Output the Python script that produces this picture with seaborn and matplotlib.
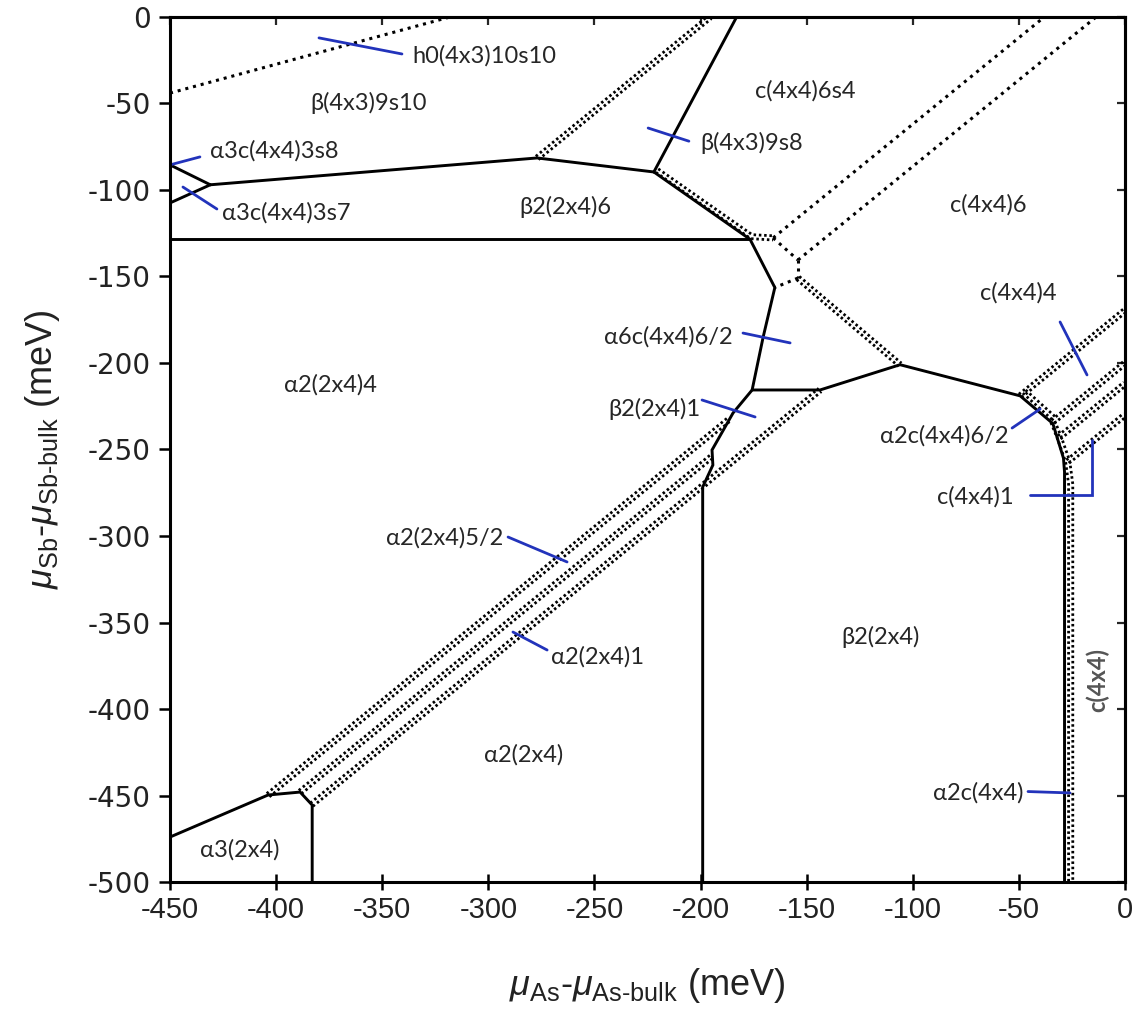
import matplotlib
matplotlib.use("Agg")
import matplotlib.pyplot as plt
from matplotlib import font_manager as fm
import numpy as np
import pandas as pd
import seaborn as sns

# ---------------------------------------------------------------
# Surface phase diagram: mu_As - mu_As,bulk (x) vs mu_Sb - mu_Sb,bulk (y), meV
# ---------------------------------------------------------------

# solid boundaries between the main reconstructions
edge_3s8 = [(-450, -85.5), (-431, -97)]
edge_3s7 = [(-450, -107.5), (-431, -97)]
edge_4x3 = [(-431, -97), (-277, -81.5), (-222, -89.6)]
edge_9s8 = [(-222, -89.6), (-183, 0)]
edge_center = [(-222, -89.6), (-176.7, -128.5), (-165, -156.4), (-170.5, -185),
               (-175.7, -215.6), (-184.7, -228.9), (-194.6, -250.3),
               (-194.2, -259), (-199, -271.7), (-199, -500)]
edge_26 = [(-450, -128.5), (-176.7, -128.5)]
edge_right = [(-175.7, -215.6), (-143.7, -215.6), (-106, -201), (-49.4, -219),
              (-34, -235), (-29, -255), (-28.5, -263), (-28.5, -500)]
edge_a3 = [(-450, -474), (-403.8, -449.7), (-388.7, -448), (-383, -455.5), (-383, -500)]

# single dotted boundaries
dot_h0 = [(-450, -44), (-318, 0)]
dot_j1_up = [(-165.8, -127.7), (-38, 0)]
dot_j1_j2 = [(-165.8, -127.7), (-154.1, -140.5)]
dot_j2_up = [(-154.1, -140.5), (-13.6, 0)]
dot_j2_j3 = [(-154.1, -140.5), (-154.1, -150.9)]
dot_j3_v = [(-154.1, -150.9), (-165, -156.4)]

# double dotted boundaries
dd_4x3 = [(-277, -81.5), (-195.5, 0)]
dd_center = [(-220.5, -88.8), (-176, -127.0), (-165.8, -127.7)]
dd_j3 = [(-154.1, -150.9), (-106, -201)]
dd_band1 = [(-403.8, -449.8), (-186.3, -232.3)]
dd_band2 = [(-388.7, -448), (-194.4, -253.7)]
dd_band3 = [(-383.3, -455.3), (-143.7, -215.6)]
dd_r1 = [(-49.4, -219), (0, -169.6)]
dd_r_along = [(-47.5, -216.5), (-33.5, -232)]
dd_r2 = [(-34, -234), (0, -200)]
dd_r3 = [(-31, -243), (0, -212)]
dd_r4 = [(-27, -257), (0, -230)]
dd_r_link = [(-34, -234), (-31, -243), (-27, -257), (-25.6, -270), (-25.6, -500)]

# blue leader lines
lead_h0 = [(-379.8, -12.1), (-340.7, -21.4)]
lead_3s8 = [(-450, -85.5), (-435.9, -80.9)]
lead_3s7 = [(-443.9, -98.3), (-427.9, -111)]
lead_9s8 = [(-224.7, -64.2), (-205.5, -71.8)]
lead_6c = [(-180, -182.7), (-157.8, -188.4)]
lead_b21 = [(-199.3, -221.4), (-174.3, -231.2)]
lead_a252 = [(-290.7, -300.6), (-262.9, -315)]
lead_a21 = [(-288.4, -355.5), (-272.3, -365.9)]
lead_c44_4 = [(-30.6, -176.3), (-17.9, -206.9)]
lead_a2c62 = [(-53.2, -237.6), (-40, -226.6)]
lead_c44_1 = [(-44.7, -276.3), (-15.5, -276.3), (-15.5, -244.5)]
lead_a2c = [(-45.7, -447.7), (-25.9, -448.5)]

# phase labels
phase_names = ["h0(4x3)10s10", "β(4x3)9s10", "α3c(4x4)3s8", "α3c(4x4)3s7",
               "β2(2x4)6", "c(4x4)6s4", "β(4x3)9s8", "c(4x4)6", "α2(2x4)4",
               "α6c(4x4)6/2", "β2(2x4)1", "c(4x4)4", "α2c(4x4)6/2", "c(4x4)1",
               "α2(2x4)5/2", "α2(2x4)1", "β2(2x4)", "α2(2x4)", "α2c(4x4)",
               "α3(2x4)"]
phase_x = [-336, -356.2, -431.1, -425.5, -263.9, -150.8, -200.2, -64.5, -374.6,
           -184.7, -200.2, -50.4, -55.1, -52.7, -293.1, -270.5, -115.4, -283.2,
           -48, -417]
phase_y = [-22.5, -49.7, -77.5, -113.3, -109.8, -42.8, -72.8, -108.7, -212.7,
           -185, -226.6, -159.5, -242.2, -277.5, -301.2, -370, -358.4, -426.6,
           -448.6, -481.5]
phase_ha = ["left", "center", "left", "left", "center", "center", "left", "center",
            "center", "right", "right", "center", "right", "right", "right", "left",
            "center", "center", "right", "center"]

side_label = "c(4x4)"
side_x, side_y = -13.1, -383

x_ticks = list(range(-450, 1, 50))
y_ticks = list(range(-500, 1, 50))

# ---------------------------------------------------------------
sns.set_theme(style="ticks")
names = {f.name for f in fm.fontManager.ttflist}
label_font = "Lato" if "Lato" in names else "DejaVu Sans"
plt.rcParams["font.family"] = ["Liberation Sans", "DejaVu Sans"]
plt.rcParams["mathtext.fontset"] = "custom"
plt.rcParams["mathtext.rm"] = "Liberation Sans"
plt.rcParams["mathtext.it"] = "Liberation Sans:italic"
plt.rcParams["mathtext.bf"] = "Liberation Sans:bold"

fig = plt.figure(figsize=(11.44, 10.15), dpi=100)
ax = fig.add_axes([0.1486, 0.131, 0.8348, 0.8523])

PX_X, PX_Y = 2.122, 1.73  # screen pixels per meV along x and y


def shifted(pts, d):
    """Parallel copy of a polyline, shifted d screen pixels sideways."""
    a = np.asarray(pts, float) * [PX_X, PX_Y]
    seg = np.diff(a, axis=0)
    n = np.stack([-seg[:, 1], seg[:, 0]], 1)
    n /= np.linalg.norm(n, axis=1)[:, None]
    vn = np.zeros_like(a)
    vn[:-1] += n
    vn[1:] += n
    vn /= np.linalg.norm(vn, axis=1)[:, None]
    return (a + d * vn) / [PX_X, PX_Y]


def draw(pts, color="black", lw=2.2, ls="-", capstyle="butt"):
    arr = np.asarray(pts, float)
    df = pd.DataFrame({"mu_as": arr[:, 0], "mu_sb": arr[:, 1]})
    sns.lineplot(data=df, x="mu_as", y="mu_sb", sort=False, estimator=None,
                 color=color, lw=lw, linestyle=ls, ax=ax,
                 solid_joinstyle="miter", dash_capstyle=capstyle)


for line in [edge_3s8, edge_3s7, edge_4x3, edge_9s8, edge_center, edge_26,
             edge_right, edge_a3]:
    draw(line, lw=2.1)

single_dots = (0, (1.0, 1.6))
for line in [dot_h0, dot_j1_up, dot_j1_j2, dot_j2_up, dot_j2_j3, dot_j3_v]:
    draw(line, lw=2.2, ls=single_dots)

double_dots = (0, (0.9, 1.0))
for line in [dd_4x3, dd_center, dd_j3, dd_band1, dd_band2, dd_band3, dd_r1,
             dd_r_along, dd_r2, dd_r3, dd_r4, dd_r_link]:
    for d in (-2.1, 2.1):
        draw(shifted(line, d), lw=2.0, ls=double_dots)

blue = "#2233bb"
for line in [lead_h0, lead_3s8, lead_3s7, lead_9s8, lead_6c, lead_b21, lead_a252,
             lead_a21, lead_c44_4, lead_a2c62, lead_c44_1, lead_a2c]:
    draw(line, color=blue, lw=2.0)

for name, x, y, ha in zip(phase_names, phase_x, phase_y, phase_ha):
    ax.text(x, y, name, ha=ha, va="center", fontsize=17, color="#262626",
            family=[label_font, "DejaVu Sans"])
ax.text(side_x, side_y, side_label, rotation=90, ha="center", va="center",
        fontsize=17, color="#555555", fontweight="bold",
        family=[label_font, "DejaVu Sans"])

ax.set_xlim(-450, 0)
ax.set_ylim(-500, 0)
ax.set_xticks(x_ticks)
ax.set_yticks(y_ticks)
ax.set_xticklabels([str(v) for v in x_ticks])
ax.set_yticklabels([str(v) for v in y_ticks])
for lab in ax.get_yticklabels():
    lab.set_family(["DejaVu Sans"])
for side in ["left", "right", "top", "bottom"]:
    ax.spines[side].set_visible(True)
    ax.spines[side].set_linewidth(2.2)
    ax.spines[side].set_color("black")
ax.tick_params(axis="x", which="major", direction="inout", length=12, width=1.8,
               labelsize=21, pad=4, colors="black", labelcolor="#222222",
               top=False)
ax.tick_params(axis="y", which="major", direction="out", length=8, width=1.8,
               labelsize=20, pad=6, colors="black", labelcolor="#222222",
               right=False)

# inward ticks on the top and right frame
top = ax.secondary_xaxis("top")
top.set_xticks(x_ticks)
top.tick_params(direction="in", length=6, width=1.6, labeltop=False)
top.spines["top"].set_linewidth(2.2)
right = ax.secondary_yaxis("right")
right.set_yticks(y_ticks)
right.tick_params(direction="in", length=6, width=1.6, labelright=False)
right.spines["right"].set_linewidth(2.2)

ax.set_xlabel(r"$\mu_{\mathrm{As}}$-$\mu_{\text{As-bulk}}$ (meV)", fontsize=26,
              color="#222222", labelpad=30)
ax.set_ylabel(r"$\mu_{\mathrm{Sb}}$-$\mu_{\text{Sb-bulk}}$ (meV)", fontsize=26,
              color="#222222", labelpad=18)
ax.grid(False)

fig.savefig("out.png", dpi=100)
